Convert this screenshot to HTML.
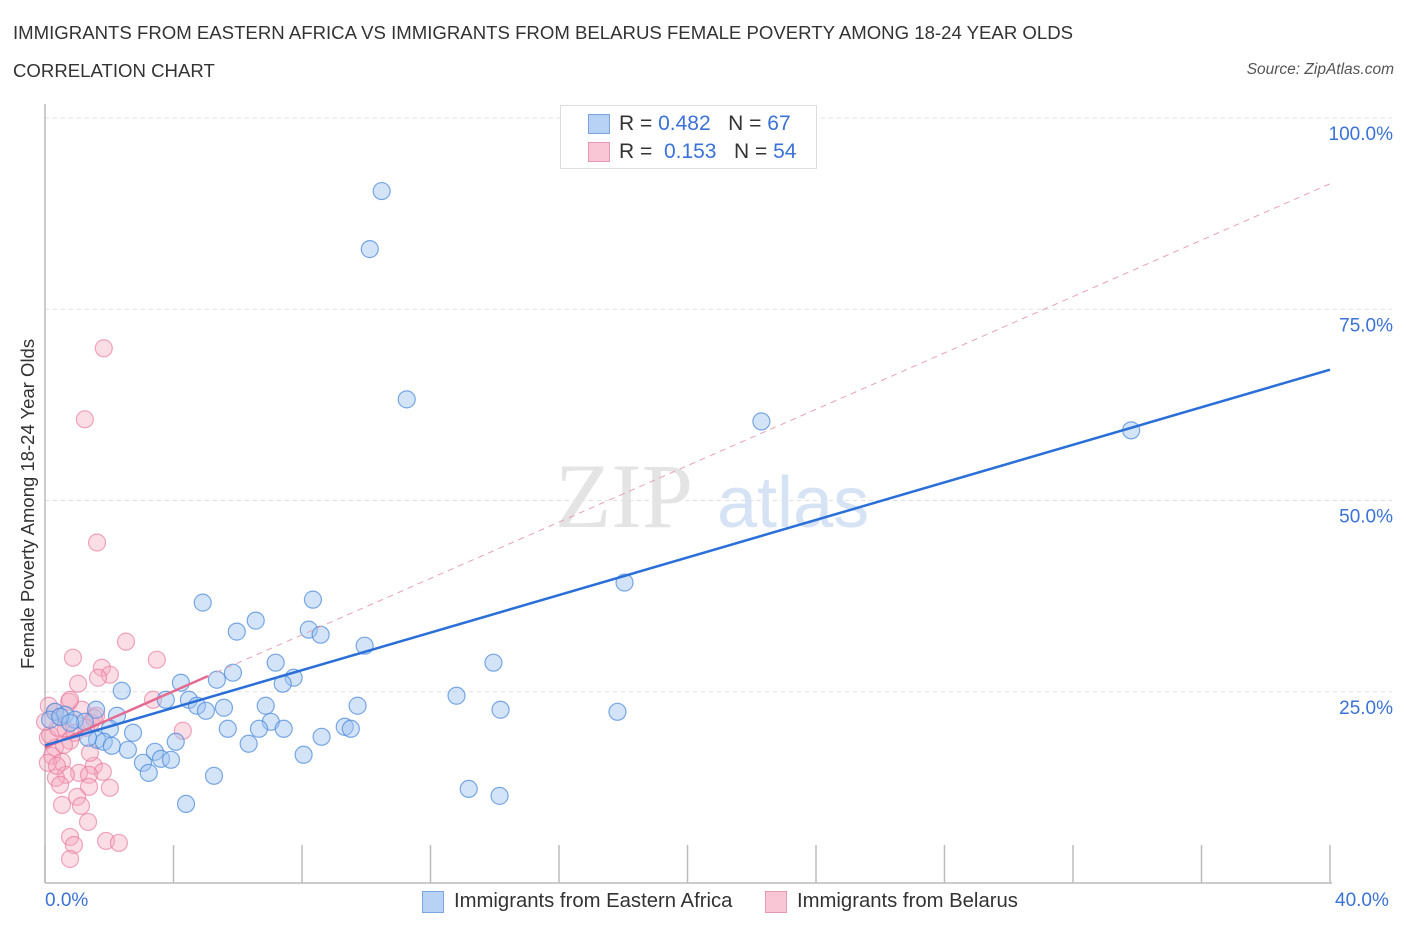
<!DOCTYPE html>
<html><head><meta charset="utf-8">
<style>
body{margin:0;background:#fff;font-family:"Liberation Sans",sans-serif;}
#wrap{position:relative;width:1406px;height:930px;overflow:hidden;}
.t{position:absolute;white-space:nowrap;}
</style></head>
<body>
<div id="wrap">
<div class="t" style="left:13px;top:22px;font-size:18.6px;color:#333;">IMMIGRANTS FROM EASTERN AFRICA VS IMMIGRANTS FROM BELARUS FEMALE POVERTY AMONG 18-24 YEAR OLDS</div>
<div class="t" style="left:13px;top:60px;font-size:18.6px;color:#333;">CORRELATION CHART</div>
<div class="t" style="right:12px;top:61px;font-size:15.5px;color:#555;font-style:italic;">Source: ZipAtlas.com</div>
<svg id="svg" width="1406" height="930" style="position:absolute;left:0;top:0"></svg>
</div>
<script>
const xBlue=[10.48,10.11,11.26,22.30,33.81,18.04,4.91,8.34,6.56,5.97,8.21,8.58,9.95,7.18,13.96,5.85,5.35,4.23,7.74,7.40,2.39,12.81,3.76,4.48,4.73,5.01,5.57,6.87,9.73,14.18,17.82,7.03,1.59,2.24,0.31,0.62,0.93,1.24,2.02,5.69,6.66,7.43,9.33,9.52,8.61,2.74,4.07,1.62,1.83,2.08,2.58,3.42,3.61,3.92,3.05,3.23,8.05,6.34,5.26,4.39,13.19,14.15,0.16,0.47,0.78,1.34];
const yBlue=[90.45,82.86,63.22,60.34,59.17,39.27,36.65,37.04,34.30,32.86,33.12,32.46,31.02,28.80,28.80,27.49,26.57,26.18,26.83,26.05,25.13,24.48,23.95,23.95,23.17,22.51,22.91,23.17,23.17,22.65,22.38,21.07,22.65,21.86,22.38,21.99,21.34,21.07,20.16,20.16,20.16,20.16,20.42,20.16,19.11,19.64,18.46,18.72,18.46,17.93,17.41,17.15,16.23,16.10,15.71,14.40,16.76,18.20,14.01,10.34,12.30,11.39,21.34,21.73,20.94,18.98];
const xPink=[1.83,1.24,1.62,2.52,3.48,0.87,1.77,2.02,1.03,1.65,0.75,0.12,0.31,0.50,1.59,1.43,1.28,0.65,0.09,0.78,0.31,0.22,0.53,0.09,1.06,0.65,1.52,1.80,1.37,0.34,1.37,2.02,0.47,1.00,0.53,1.12,1.34,0.78,0.90,0.78,1.90,2.30,3.36,4.29,1.40,0.37,0.93,1.15,0.16,0.59,1.52,0.78,0.40,0.0];
const yPink=[69.90,60.61,44.51,31.55,29.19,29.45,28.14,27.23,26.05,26.83,23.69,23.17,22.38,21.60,21.86,20.94,20.29,20.03,18.98,18.59,17.67,16.62,15.84,15.71,14.40,14.14,15.32,14.53,14.14,13.74,12.57,12.44,12.83,11.26,10.21,10.08,7.98,6.02,4.97,3.14,5.50,5.24,23.95,19.90,17.02,15.32,19.64,22.65,19.37,18.06,21.60,23.95,20.29,21.07];
const blueLine=[18.0,67.1];
const pinkLine=[17.7,91.4];
const pinkSolidEnd=5.07;
const yTicks=[25,50,75,100];
const yTickLabels=["25.0%","50.0%","75.0%","100.0%"];
const xTicks=[0,4,8,12,16,20,24,28,32,36,40];

const X0=45,X1=1330,YB=883,YT=118;
const sx=v=>X0+(v/40)*(X1-X0);
const sy=v=>YB-(v/100)*(YB-YT);
const svg=document.getElementById('svg');
const NS='http://www.w3.org/2000/svg';
function mk(tag,at,parent){const e=document.createElementNS(NS,tag);for(const k in at)e.setAttribute(k,at[k]);(parent||svg).appendChild(e);return e;}

yTicks.forEach((v,i)=>{
 const g=mk('line',{x1:X0,x2:X1+62,y1:sy(v),y2:sy(v),stroke:'#dde0e4','stroke-dasharray':'4,4','stroke-width':1});
 
 
 const t=mk('text',{x:1393,y:sy(v)+22,'text-anchor':'end','font-size':19,fill:'#3a72d8','font-family':'Liberation Sans, sans-serif'});
 t.textContent=yTickLabels[i];
 
 
});
const ax=mk('line',{x1:X0,x2:X0,y1:104,y2:YB,stroke:'#bbb','stroke-width':1.5});


const axx=mk('line',{x1:X0,x2:X1+2,y1:YB,y2:YB,stroke:'#bbb','stroke-width':1.5});


xTicks.forEach(v=>{
 const l=mk('line',{x1:sx(v),x2:sx(v),y1:YB-38,y2:YB,stroke:'#bbb','stroke-width':1.5});
 
 
});
const wm=mk('text',{x:555,y:527,'font-size':92,fill:'#e4e4e4','font-family':'Liberation Serif, serif'});
wm.textContent='ZIP';


const wm2=mk('text',{x:717,y:527,'font-size':72,fill:'#d6e3f5','font-family':'Liberation Sans, sans-serif'});
wm2.textContent='atlas';



for(let i=0;i<xPink.length;i++){
 const c=mk('circle',{cx:sx(xPink[i]),cy:sy(yPink[i]),r:8.5,fill:'rgba(245,170,192,0.4)',stroke:'rgba(232,120,155,0.65)','stroke-width':1.2});
 
 
}
for(let i=0;i<xBlue.length;i++){
 const c=mk('circle',{cx:sx(xBlue[i]),cy:sy(yBlue[i]),r:8.5,fill:'rgba(160,195,240,0.45)',stroke:'rgba(80,140,220,0.75)','stroke-width':1.2});
 
 
}
const pd=mk('line',{x1:sx(0),y1:sy(pinkLine[0]),x2:sx(40),y2:sy(pinkLine[1]),stroke:'#e8a0b6','stroke-width':1,'stroke-dasharray':'6,5'});


const ps=mk('line',{x1:sx(0),y1:sy(pinkLine[0]),x2:sx(pinkSolidEnd),y2:sy(pinkLine[0]+(pinkLine[1]-pinkLine[0])*pinkSolidEnd/40),stroke:'#e46a90','stroke-width':2.5});


const bl=mk('line',{x1:sx(0),y1:sy(blueLine[0]),x2:sx(40),y2:sy(blueLine[1]),stroke:'#2a6fd8','stroke-width':2.5});


</script>
<div class="t" style="left:45px;top:890px;font-size:19px;color:#3a72d8;">0.0%</div>
<div class="t" style="left:1335px;top:890px;font-size:19px;color:#3a72d8;">40.0%</div>
<div class="t" style="left:17px;top:669px;font-size:18.5px;color:#333;transform:rotate(-90deg);transform-origin:0 0;">Female Poverty Among 18-24 Year Olds</div>
<div style="position:absolute;left:560px;top:105px;width:255px;height:62px;border:1px solid #ddd;background:#fff;">
 <div style="position:absolute;left:27px;top:8px;width:20px;height:18px;background:#b8d2f5;border:1px solid #7aa6e0;"></div>
 <div class="t" style="left:58px;top:6px;font-size:21px;color:#333;">R = <span style="color:#3a72d8">0.482</span>&nbsp;&nbsp;&nbsp;N = <span style="color:#3a72d8">67</span></div>
 <div style="position:absolute;left:27px;top:36px;width:20px;height:18px;background:#f8c6d4;border:1px solid #e898b0;"></div>
 <div class="t" style="left:58px;top:34px;font-size:21px;color:#333;">R = &nbsp;<span style="color:#3a72d8">0.153</span>&nbsp;&nbsp;&nbsp;N = <span style="color:#3a72d8">54</span></div>
</div>
<div style="position:absolute;left:422px;top:891px;width:20px;height:20px;background:#b8d2f5;border:1px solid #7aa6e0;"></div>
<div class="t" style="left:454px;top:890px;font-size:20.3px;color:#333;">Immigrants from Eastern Africa</div>
<div style="position:absolute;left:765px;top:891px;width:20px;height:20px;background:#f8c6d4;border:1px solid #e898b0;"></div>
<div class="t" style="left:797px;top:890px;font-size:20.3px;color:#333;">Immigrants from Belarus</div>
</body></html>
